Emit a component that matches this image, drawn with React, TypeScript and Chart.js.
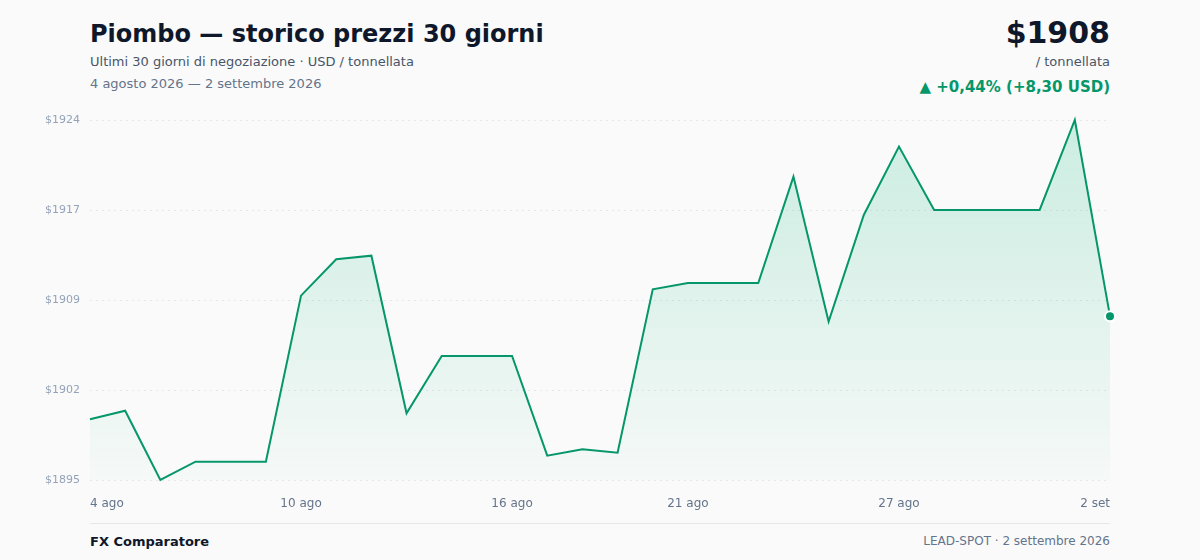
import { useEffect, useRef } from "react";
import { Chart, registerables, type ChartConfiguration } from "chart.js";

Chart.register(...registerables);

const days = [
  "4 ago", "5 ago", "6 ago", "7 ago", "8 ago", "9 ago", "10 ago", "11 ago", "12 ago", "13 ago",
  "14 ago", "15 ago", "16 ago", "17 ago", "18 ago", "19 ago", "20 ago", "21 ago", "22 ago", "23 ago",
  "24 ago", "25 ago", "26 ago", "27 ago", "28 ago", "29 ago", "30 ago", "31 ago", "1 set", "2 set",
];
const shownDays = ["4 ago", "10 ago", "16 ago", "21 ago", "27 ago", "2 set"];

const prices = [
  1899.9, 1900.58, 1895.0, 1896.48, 1896.48, 1896.48, 1909.85, 1912.78, 1913.07, 1900.37,
  1904.99, 1904.99, 1904.99, 1896.96, 1897.47, 1897.2, 1910.36, 1910.87, 1910.87, 1910.87,
  1919.44, 1907.76, 1916.35, 1921.86, 1916.76, 1916.76, 1916.76, 1916.76, 1924.0, 1908.2,
];

const yMin = 1895;
const yMax = 1924;
const yTickLabels = ["$1895", "$1902", "$1909", "$1917", "$1924"];

const GREEN = "#059669";
const FONT = "'DejaVu Sans', Verdana, sans-serif";

function PriceChart() {
  const canvasRef = useRef<HTMLCanvasElement>(null);
  const chartRef = useRef<Chart | null>(null);

  useEffect(() => {
    if (!canvasRef.current) return;
    chartRef.current?.destroy();
    const last = prices.length - 1;

    const cfg: ChartConfiguration<"line"> = {
      type: "line",
      data: {
        labels: days,
        datasets: [
          {
            data: prices,
            borderColor: GREEN,
            borderWidth: 2,
            tension: 0,
            fill: "start",
            backgroundColor: (ctx) => {
              const area = ctx.chart.chartArea;
              if (!area) return "rgba(16,185,129,0.12)";
              const g = ctx.chart.ctx.createLinearGradient(0, area.top, 0, area.bottom);
              g.addColorStop(0, "rgba(16,185,129,0.2)");
              g.addColorStop(1, "rgba(16,185,129,0.02)");
              return g;
            },
            pointRadius: (ctx) => (ctx.dataIndex === last ? 5 : 0),
            pointBackgroundColor: GREEN,
            pointBorderColor: "#ffffff",
            pointBorderWidth: 2,
            clip: false,
          },
        ],
      },
      options: {
        animation: false,
        responsive: false,
        layout: { padding: { top: 20, right: 20, left: 0, bottom: 0 } },
        plugins: { legend: { display: false }, tooltip: { enabled: false } },
        scales: {
          x: {
            grid: { display: false },
            border: { display: false },
            afterFit: (s) => {
              s.height = 40;
            },
            ticks: {
              autoSkip: false,
              maxRotation: 0,
              align: "inner",
              padding: 9,
              color: "#64748b",
              font: { family: FONT, size: 12 },
              callback: (_v, i) => (shownDays.includes(days[i]) ? days[i] : ""),
            },
          },
          y: {
            min: yMin,
            max: yMax,
            border: { display: false, dash: [2, 4] },
            afterFit: (s) => {
              s.width = 90;
            },
            afterBuildTicks: (s) => {
              const step = (yMax - yMin) / (yTickLabels.length - 1);
              s.ticks = yTickLabels.map((_, i) => ({ value: yMin + i * step }));
            },
            grid: {
              color: "#e5e7eb",
              drawTicks: false,
            },
            ticks: {
              padding: 10,
              color: "#94a3b8",
              font: { family: FONT, size: 11 },
              callback: (_v, i) => yTickLabels[i],
            },
          },
        },
      },
    };

    chartRef.current = new Chart(canvasRef.current, cfg);
    return () => {
      chartRef.current?.destroy();
    };
  }, []);

  return (
    <canvas
      ref={canvasRef}
      width={1130}
      height={420}
      style={{ position: "absolute", left: 0, top: 100, width: 1130, height: 420 }}
    />
  );
}

export default function App() {
  useEffect(() => {
    document.body.style.margin = "0";
    document.body.style.background = "#fafafa";
  }, []);

  const abs = (s: React.CSSProperties): React.CSSProperties => ({
    position: "absolute",
    whiteSpace: "nowrap",
    fontFamily: FONT,
    ...s,
  });

  return (
    <div style={{ position: "relative", width: 1200, height: 560, background: "#fafafa", overflow: "hidden" }}>
      <div style={abs({ left: 90, top: 20, fontSize: 24, fontWeight: 700, color: "#0f172a" })}>
        Piombo — storico prezzi 30 giorni
      </div>
      <div style={abs({ left: 90, top: 54, fontSize: 13, color: "#475569" })}>
        Ultimi 30 giorni di negoziazione · USD / tonnellata
      </div>
      <div style={abs({ left: 90, top: 76, fontSize: 13, color: "#64748b" })}>
        4 agosto 2026 — 2 settembre 2026
      </div>
      <div style={abs({ right: 90, top: 15, fontSize: 30, fontWeight: 700, color: "#0f172a" })}>$1908</div>
      <div style={abs({ right: 90, top: 54, fontSize: 13, color: "#475569" })}>/ tonnellata</div>
      <div style={abs({ right: 90, top: 78, fontSize: 15, fontWeight: 700, color: GREEN })}>
        ▲ +0,44% (+8,30 USD)
      </div>
      <PriceChart />
      <div style={{ position: "absolute", left: 90, width: 1020, top: 523, height: 1, background: "#e5e7eb" }} />
      <div style={abs({ left: 90, top: 534, fontSize: 13, fontWeight: 700, color: "#0f172a" })}>FX Comparatore</div>
      <div style={abs({ right: 90, top: 534, fontSize: 12, color: "#64748b" })}>
        LEAD-SPOT · 2 settembre 2026
      </div>
    </div>
  );
}
